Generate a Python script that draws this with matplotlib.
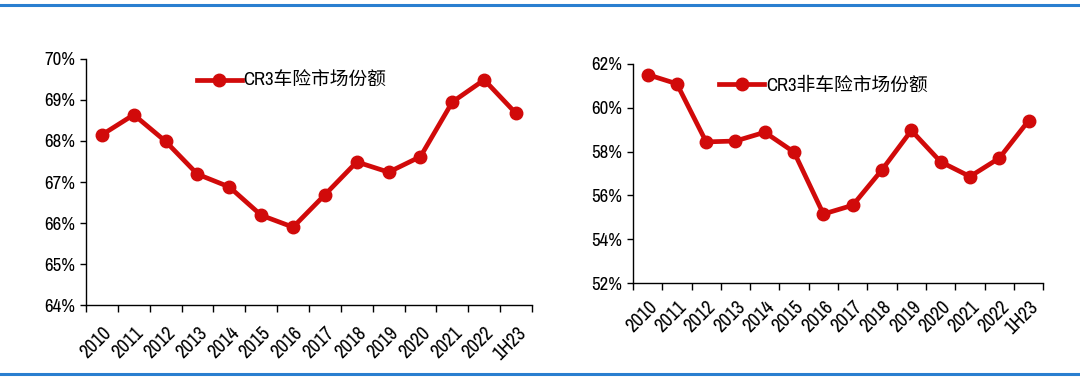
import matplotlib.pyplot as plt
from matplotlib.ticker import FuncFormatter
from matplotlib.lines import Line2D

plt.rcParams['font.family'] = ['Liberation Sans Narrow', 'Archivo Narrow', 'Noto Sans CJK SC', 'DejaVu Sans']

years = ['2010', '2011', '2012', '2013', '2014', '2015', '2016', '2017',
         '2018', '2019', '2020', '2021', '2022', '1H23']
# CR3 share of motor insurance market (%)
auto_share = [68.15, 68.64, 67.99, 67.19, 66.88, 66.19, 65.90, 66.69,
              67.49, 67.24, 67.62, 68.95, 69.49, 68.67]
# CR3 share of non-motor insurance market (%)
non_auto_share = [61.51, 61.09, 58.44, 58.48, 58.88, 57.97, 55.15, 55.55,
                  57.17, 58.96, 57.53, 56.86, 57.70, 59.41]

red = '#d10a0a'
fig = plt.figure(figsize=(10.8, 3.8), dpi=100)

# blue rules at top and bottom
fig.add_artist(Line2D([0, 1], [1 - 5 / 380, 1 - 5 / 380], color='#2a7fd0', lw=2.2))
fig.add_artist(Line2D([0, 1], [1 - 374 / 380, 1 - 374 / 380], color='#2a7fd0', lw=2.2))


def draw(ax, values, label, ylim, step, legend_pos, pad):
    x = range(len(values))
    ax.plot(x, values, color=red, lw=3.4, marker='o', ms=9, label=label)
    ax.set_xlim(-0.5, len(values) - 0.5)
    ax.set_ylim(*ylim)
    ax.set_yticks([ylim[0] + i * step for i in range(int(round((ylim[1] - ylim[0]) / step)) + 1)])
    ax.yaxis.set_major_formatter(FuncFormatter(lambda v, p: f'{v:.0f}%'))
    # ticks at category boundaries, labels at centres
    ax.set_xticks([i - 0.5 for i in range(len(values) + 1)])
    ax.set_xticklabels([])
    ax.set_xticks(list(x), minor=True)
    ax.set_xticklabels(years, minor=True, rotation=45, ha='right', rotation_mode='anchor', fontsize=14)
    ax.tick_params(axis='x', which='minor', length=0, pad=pad)
    ax.tick_params(axis='x', which='major', length=5, direction='out', width=1)
    ax.tick_params(axis='y', length=4, width=1, labelsize=13.5, pad=4)
    for s in ['top', 'right']:
        ax.spines[s].set_visible(False)
    for s in ['left', 'bottom']:
        ax.spines[s].set_linewidth(1)
    leg = ax.legend(loc='upper left', bbox_to_anchor=legend_pos, frameon=False,
                    fontsize=13.5, handlelength=2.4, handletextpad=0.1, borderpad=0)
    for t in leg.get_texts():
        t.set_family(['Liberation Sans Narrow', 'Archivo Narrow', 'Noto Sans CJK SC'])


ax1 = fig.add_axes([0.0796, 0.197, 0.413, 0.648])
draw(ax1, auto_share, 'CR3车险市场份额', (64, 70), 1, (0.227, 0.985), 13)

ax2 = fig.add_axes([0.586, 0.255, 0.380, 0.577])
draw(ax2, non_auto_share, 'CR3非车险市场份额', (52, 62), 2, (0.188, 0.985), 10.5)

fig.savefig('out.png', dpi=100)
